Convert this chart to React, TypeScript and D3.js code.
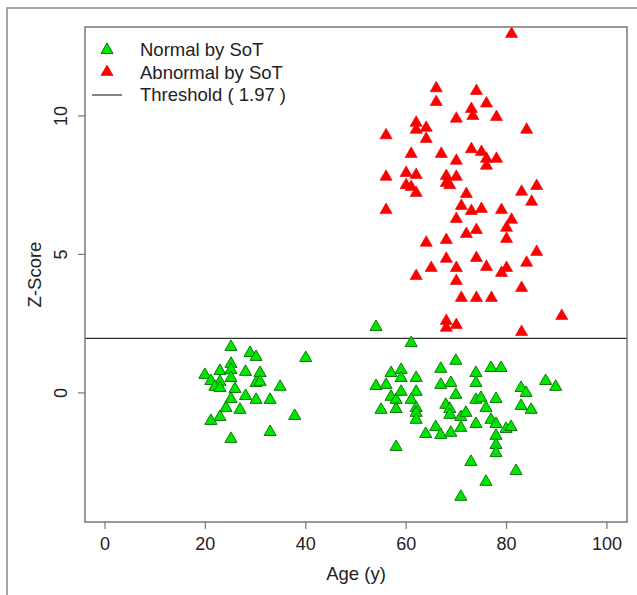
import React from 'react';
import * as d3 from 'd3';

// Normal by SoT (green)
const normalAge = [25.1, 28.9, 30.1, 40, 25.1, 19.9, 22.9, 25.1, 28, 30.9, 21.1, 22.9, 25.1, 30.1, 30.9, 21.9, 22.9, 34.9, 25.9, 28, 25.1, 30.1, 32.9, 24.1, 26.9, 22.9, 37.8, 21.1, 32.9, 25.1,
  54, 61, 69.9, 66.9, 73.9, 76.9, 78.9, 57, 59, 59, 62, 54, 56, 66.9, 68.9, 73.9, 87.8, 89.8, 82.9, 83.9, 57, 58, 59, 62, 61, 69.9, 73.9, 74.9, 77.9, 75.9, 55, 58, 62, 62, 67.9, 68.7, 68.7, 70.9, 71.9, 82.9, 84.9, 62, 73.9, 76.9, 77.9, 79.9, 80.9, 65.9, 70.9, 63.9, 66.9, 68.9, 77.9, 77.9, 77.9, 58, 72.9, 81.9, 75.9, 70.9];
const normalZ = [1.66, 1.44, 1.3, 1.26, 1.05, 0.65, 0.79, 0.83, 0.76, 0.72, 0.43, 0.4, 0.54, 0.36, 0.4, 0.22, 0.18, 0.22, 0.14, -0.11, -0.22, -0.25, -0.25, -0.54, -0.61, -0.87, -0.83, -1.01, -1.41, -1.66,
  2.38, 1.8, 1.16, 0.87, 0.72, 0.9, 0.9, 0.72, 0.83, 0.54, 0.54, 0.25, 0.29, 0.29, 0.36, 0.36, 0.43, 0.22, 0.18, 0, -0.14, -0.25, 0.04, 0.04, -0.25, -0.07, -0.25, -0.18, -0.22, -0.54, -0.61, -0.58, -0.54, -0.72, -0.43, -0.58, -0.79, -0.87, -0.72, -0.47, -0.61, -0.97, -1.12, -0.97, -1.12, -1.3, -1.23, -1.23, -1.26, -1.48, -1.52, -1.44, -1.55, -1.88, -2.17, -1.95, -2.49, -2.82, -3.21, -3.75];

// Abnormal by SoT (red)
const abnormalAge = [81, 66, 74, 66, 76, 73, 73.3, 70, 78, 84, 56, 62, 62, 64, 64, 61, 67, 70, 73, 75, 76, 78, 76, 56, 60, 62, 68, 70, 60, 61, 62, 68, 68.7, 72, 83, 86, 85, 56, 71, 73, 75, 79, 70, 81, 80, 74, 72, 80, 64, 68, 86, 74, 68, 84, 65, 70, 76, 80, 79, 62, 70, 83, 71, 74, 77, 91, 68, 70, 68, 83];
const abnormalZ = [12.96, 11.0, 10.9, 10.5, 10.45, 10.25, 10.0, 9.9, 9.96, 9.5, 9.3, 9.75, 9.5, 9.57, 9.17, 8.63, 8.63, 8.38, 8.8, 8.7, 8.45, 8.45, 8.2, 7.8, 7.94, 7.87, 7.83, 7.8, 7.5, 7.43, 7.22, 7.58, 7.5, 7.18, 7.26, 7.47, 6.9, 6.6, 6.75, 6.57, 6.64, 6.6, 6.28, 6.25, 5.96, 5.88, 5.74, 5.56, 5.42, 5.52, 5.09, 4.87, 4.84, 4.7, 4.51, 4.51, 4.55, 4.51, 4.33, 4.22, 4.04, 3.79, 3.43, 3.43, 3.43, 2.78, 2.6, 2.45, 2.35, 2.2];

const threshold = 1.97;
const xTicks = [0, 20, 40, 60, 80, 100];
const yTicks = [0, 5, 10];
const legendLabels = ['Normal by SoT', 'Abnormal by SoT', `Threshold ( ${threshold} )`];

const W = 637, H = 595;
const box = { left: 85, right: 627, top: 27, bottom: 522 };
const font = '"Liberation Sans", Arial, sans-serif';

export default function App() {
  const x = d3.scaleLinear().domain([-3.98, 104]).range([box.left, box.right]);
  const y = d3.scaleLinear().domain([-4.66, 13.21]).range([box.bottom, box.top]);
  const tri = d3.symbol(d3.symbolTriangle, 64)() as string;

  const normal = normalAge.map((a, i) => [a, normalZ[i]]);
  const abnormal = abnormalAge.map((a, i) => [a, abnormalZ[i]]);

  return (
    <svg width={W} height={H} style={{ position: 'absolute', left: 0, top: 0, background: '#fff' }}
      fontFamily={font}>
      {/* outer frame */}
      <path d={`M7,${H} V8 H${W}`} fill="none" stroke="#8a8a8a" strokeWidth={1.5} />

      {/* threshold */}
      <line x1={box.left} x2={box.right} y1={y(threshold)} y2={y(threshold)} stroke="#333" strokeWidth={1.2} />

      {/* points */}
      {abnormal.map((d, i) => (
        <path key={'a' + i} d={tri} transform={`translate(${x(d[0])},${y(d[1])})`} fill="#ff0000" stroke="#e00000" strokeWidth={0.6} />
      ))}
      {normal.map((d, i) => (
        <path key={'n' + i} d={tri} transform={`translate(${x(d[0])},${y(d[1])})`} fill="#00e600" stroke="#0b7a0b" strokeWidth={1} />
      ))}

      {/* plot box */}
      <rect x={box.left} y={box.top} width={box.right - box.left} height={box.bottom - box.top}
        fill="none" stroke="#777" strokeWidth={1.5} />

      {/* x axis */}
      {xTicks.map(t => (
        <g key={'x' + t} transform={`translate(${x(t)},${box.bottom})`}>
          <line y2={7} stroke="#777" strokeWidth={1.2} />
          <text y={28} textAnchor="middle" fontSize={18} fill="#222">{t}</text>
        </g>
      ))}
      <text x={(box.left + box.right) / 2} y={580} textAnchor="middle" fontSize={18.5} fill="#222">Age (y)</text>

      {/* y axis */}
      {yTicks.map(t => (
        <g key={'y' + t} transform={`translate(${box.left},${y(t)})`}>
          <line x2={-7} stroke="#777" strokeWidth={1.2} />
          <text transform="translate(-18,0) rotate(-90)" textAnchor="middle" fontSize={18} fill="#222">{t}</text>
        </g>
      ))}
      <text transform={`translate(41,${(box.top + box.bottom) / 2}) rotate(-90)`} textAnchor="middle" fontSize={18.5} fill="#222">Z-Score</text>

      {/* legend */}
      <g>
        <path d={tri} transform="translate(107,50)" fill="#00e600" stroke="#0b7a0b" strokeWidth={1} />
        <path d={tri} transform="translate(107,72)" fill="#ff0000" stroke="#e00000" strokeWidth={0.6} />
        <line x1={92} x2={122} y1={95} y2={95} stroke="#333" strokeWidth={1.2} />
        {legendLabels.map((l, i) => (
          <text key={l} x={140} y={50 + i * 22.5} dy="0.35em" fontSize={18.5} fill="#222">{l}</text>
        ))}
      </g>
    </svg>
  );
}
